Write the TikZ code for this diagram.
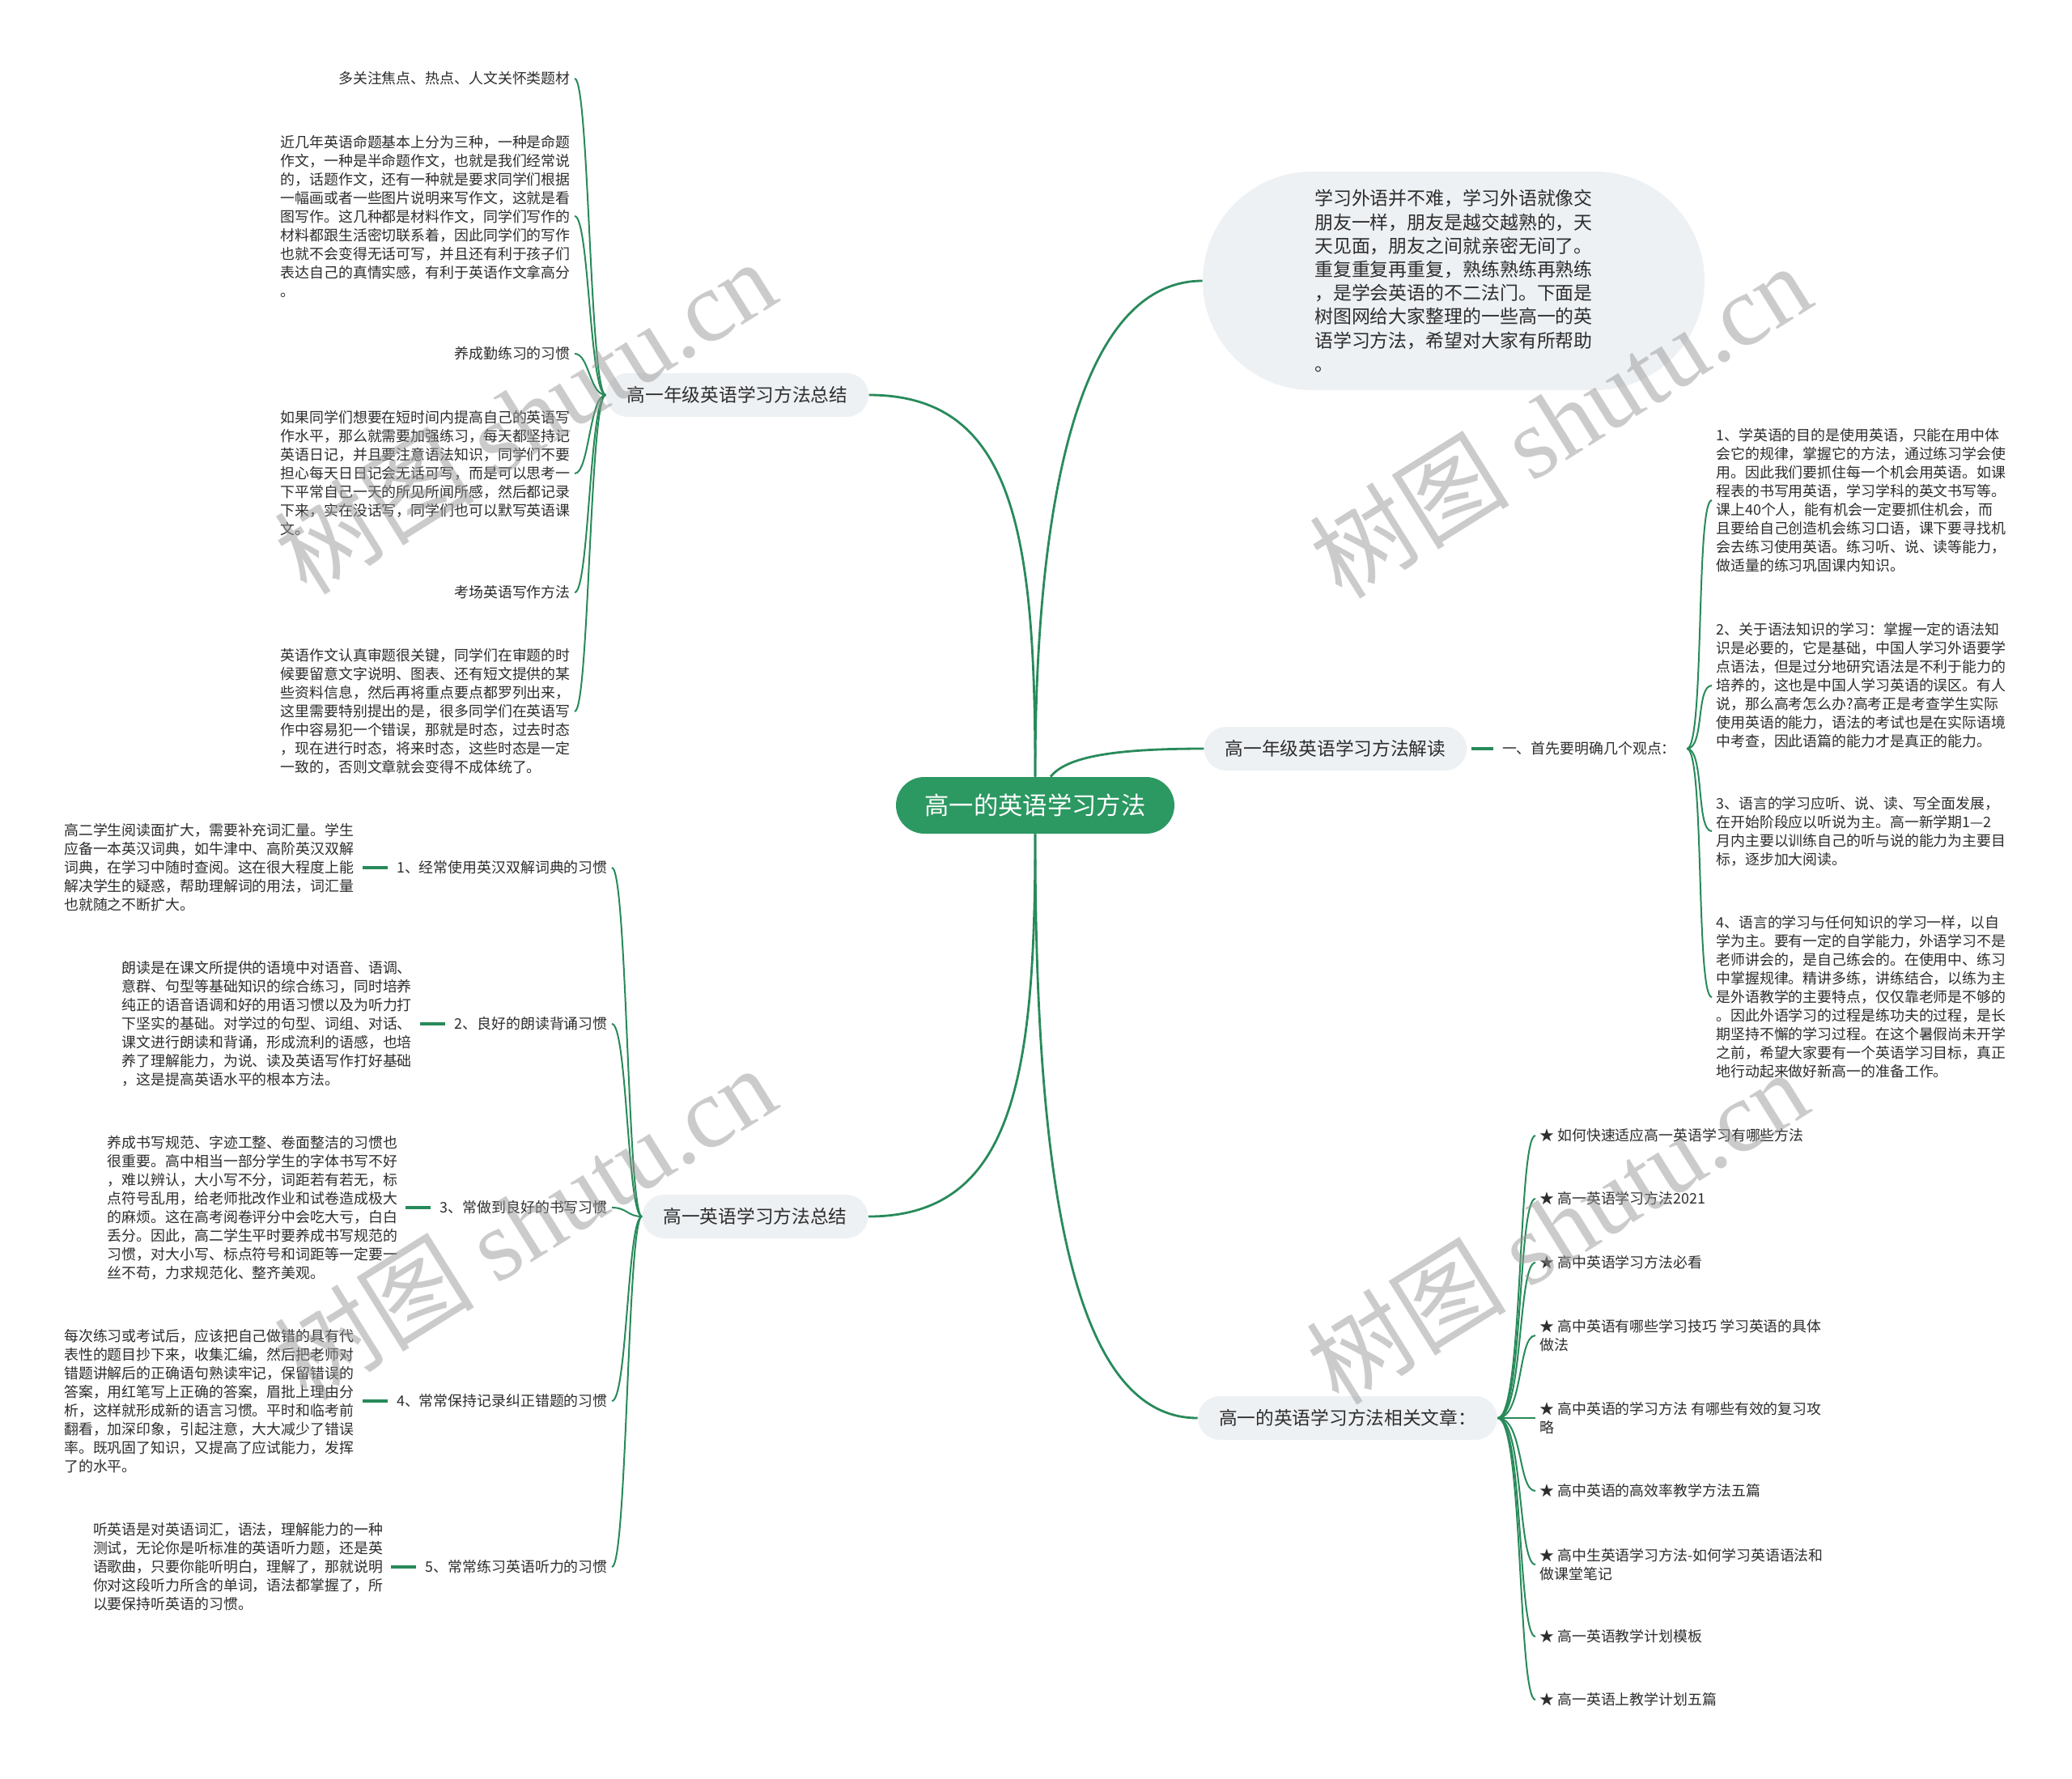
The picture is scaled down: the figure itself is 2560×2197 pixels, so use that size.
\documentclass[tikz,border=0pt]{standalone}
\usepackage{fontspec}
\setmainfont{Noto Sans CJK SC}
\newfontfamily\wmlatin{Liberation Serif}
\usetikzlibrary{positioning}
\definecolor{linegreen}{RGB}{40,138,90}
\definecolor{rootgreen}{RGB}{44,152,98}
\definecolor{branchgray}{RGB}{238,241,244}
\definecolor{textdark}{RGB}{45,45,45}

\begin{document}
\begin{tikzpicture}[x=0.5pt, y=-0.5pt,
    rootnode/.style={fill=rootgreen, text=white, rounded corners=17.5pt, minimum width=172pt, minimum height=35pt, font=\fontsize{15.15}{18}\selectfont},
    introbox/.style={fill=branchgray, text=textdark, rounded corners=67.5pt, minimum width=310pt, minimum height=135pt, align=left, font=\fontsize{11.45}{14.6}\selectfont},
    branchbox/.style={fill=branchgray, text=textdark, rounded corners=13.5pt, minimum height=27pt, inner xsep=13pt, font=\fontsize{11.35}{14}\selectfont},
    leaf/.style={text=textdark, align=left, inner xsep=2.5pt, inner ysep=1pt, font=\fontsize{8.95}{11.5}\selectfont},
    link/.style={draw=linegreen, line width=1pt},
    mainlink/.style={draw=linegreen, line width=1.4pt},
    stub/.style={draw=linegreen, line width=1.6pt, shorten <=2.5pt, shorten >=3pt},
    wmark/.style={text=black!40, opacity=0.5, rotate=32, font=\fontsize{62}{62}\selectfont}]
    \fill[white] (0,0) rectangle (2560,2197);
    \useasboundingbox (0,0) rectangle (2560,2197);

    \node[rootnode] (root) at (1279,995) {高一的英语学习方法};
    \node[introbox] (intro) at (1796,347) {学习外语并不难，学习外语就像交\\朋友一样，朋友是越交越熟的，天\\天见面，朋友之间就亲密无间了。\\重复重复再重复，熟练熟练再熟练\\，是学会英语的不二法门。下面是\\树图网给大家整理的一些高一的英\\语学习方法，希望对大家有所帮助\\。};
    \node[branchbox] (b1) at (911,488) {高一年级英语学习方法总结};
    \node[branchbox] (b2) at (1650,925) {高一年级英语学习方法解读};
    \node[branchbox] (b3) at (933,1503) {高一英语学习方法总结};
    \node[branchbox] (b4) at (1665,1752) {高一的英语学习方法相关文章：};

    % writing tips
    \node[leaf, anchor=east] (w1) at (710,97) {多关注焦点、热点、人文关怀类题材};
    \node[leaf, anchor=east] (w2) at (710,267) {近几年英语命题基本上分为三种，一种是命题\\作文，一种是半命题作文，也就是我们经常说\\的，话题作文，还有一种就是要求同学们根据\\一幅画或者一些图片说明来写作文，这就是看\\图写作。这几种都是材料作文，同学们写作的\\材料都跟生活密切联系着，因此同学们的写作\\也就不会变得无话可写，并且还有利于孩子们\\表达自己的真情实感，有利于英语作文拿高分\\。};
    \node[leaf, anchor=east] (w3) at (710,437) {养成勤练习的习惯};
    \node[leaf, anchor=east] (w4) at (710,585) {如果同学们想要在短时间内提高自己的英语写\\作水平，那么就需要加强练习，每天都坚持记\\英语日记，并且要注意语法知识，同学们不要\\担心每天日日记会无话可写，而是可以思考一\\下平常自己一天的所见所闻所感，然后都记录\\下来，实在没话写，同学们也可以默写英语课\\文。};
    \node[leaf, anchor=east] (w5) at (710,732) {考场英语写作方法};
    \node[leaf, anchor=east] (w6) at (710,879) {英语作文认真审题很关键，同学们在审题的时\\候要留意文字说明、图表、还有短文提供的某\\些资料信息，然后再将重点要点都罗列出来，\\这里需要特别提出的是，很多同学们在英语写\\作中容易犯一个错误，那就是时态，过去时态\\，现在进行时态，将来时态，这些时态是一定\\一致的，否则文章就会变得不成体统了。};

    % points of view
    \node[leaf, right=19pt of b2] (view) {一、首先要明确几个观点：};
    \node[leaf, anchor=west] (v1) at (2115,618) {1、学英语的目的是使用英语，只能在用中体\\会它的规律，掌握它的方法，通过练习学会使\\用。因此我们要抓住每一个机会用英语。如课\\程表的书写用英语，学习学科的英文书写等。\\课上40个人，能有机会一定要抓住机会，而\\且要给自己创造机会练习口语，课下要寻找机\\会去练习使用英语。练习听、说、读等能力，\\做适量的练习巩固课内知识。};
    \node[leaf, anchor=west] (v2) at (2115,847) {2、关于语法知识的学习：掌握一定的语法知\\识是必要的，它是基础，中国人学习外语要学\\点语法，但是过分地研究语法是不利于能力的\\培养的，这也是中国人学习英语的误区。有人\\说，那么高考怎么办?高考正是考查学生实际\\使用英语的能力，语法的考试也是在实际语境\\中考查，因此语篇的能力才是真正的能力。};
    \node[leaf, anchor=west] (v3) at (2115,1027) {3、语言的学习应听、说、读、写全面发展，\\在开始阶段应以听说为主。高一新学期1—2\\月内主要以训练自己的听与说的能力为主要目\\标，逐步加大阅读。};
    \node[leaf, anchor=west] (v4) at (2115,1232) {4、语言的学习与任何知识的学习一样，以自\\学为主。要有一定的自学能力，外语学习不是\\老师讲会的，是自己练会的。在使用中、练习\\中掌握规律。精讲多练，讲练结合，以练为主\\是外语教学的主要特点，仅仅靠老师是不够的\\。因此外语学习的过程是练功夫的过程，是长\\期坚持不懈的学习过程。在这个暑假尚未开学\\之前，希望大家要有一个英语学习目标，真正\\地行动起来做好新高一的准备工作。};

    % habits
    \node[leaf, anchor=east] (h1) at (756,1072) {1、经常使用英汉双解词典的习惯};
    \node[leaf, left=21pt of h1] (h1t) {高二学生阅读面扩大，需要补充词汇量。学生\\应备一本英汉词典，如牛津中、高阶英汉双解\\词典，在学习中随时查阅。这在很大程度上能\\解决学生的疑惑，帮助理解词的用法，词汇量\\也就随之不断扩大。};
    \node[leaf, anchor=east] (h2) at (756,1265) {2、良好的朗读背诵习惯};
    \node[leaf, left=21pt of h2] (h2t) {朗读是在课文所提供的语境中对语音、语调、\\意群、句型等基础知识的综合练习，同时培养\\纯正的语音语调和好的用语习惯以及为听力打\\下坚实的基础。对学过的句型、词组、对话、\\课文进行朗读和背诵，形成流利的语感，也培\\养了理解能力，为说、读及英语写作打好基础\\，这是提高英语水平的根本方法。};
    \node[leaf, anchor=east] (h3) at (756,1492) {3、常做到良好的书写习惯};
    \node[leaf, left=21pt of h3] (h3t) {养成书写规范、字迹工整、卷面整洁的习惯也\\很重要。高中相当一部分学生的字体书写不好\\，难以辨认，大小写不分，词距若有若无，标\\点符号乱用，给老师批改作业和试卷造成极大\\的麻烦。这在高考阅卷评分中会吃大亏，白白\\丢分。因此，高二学生平时要养成书写规范的\\习惯，对大小写、标点符号和词距等一定要一\\丝不苟，力求规范化、整齐美观。};
    \node[leaf, anchor=east] (h4) at (756,1731) {4、常常保持记录纠正错题的习惯};
    \node[leaf, left=21pt of h4] (h4t) {每次练习或考试后，应该把自己做错的具有代\\表性的题目抄下来，收集汇编，然后把老师对\\错题讲解后的正确语句熟读牢记，保留错误的\\答案，用红笔写上正确的答案，眉批上理由分\\析，这样就形成新的语言习惯。平时和临考前\\翻看，加深印象，引起注意，大大减少了错误\\率。既巩固了知识，又提高了应试能力，发挥\\了的水平。};
    \node[leaf, anchor=east] (h5) at (756,1936) {5、常常练习英语听力的习惯};
    \node[leaf, left=21pt of h5] (h5t) {听英语是对英语词汇，语法，理解能力的一种\\测试，无论你是听标准的英语听力题，还是英\\语歌曲，只要你能听明白，理解了，那就说明\\你对这段听力所含的单词，语法都掌握了，所\\以要保持听英语的习惯。};

    % related articles
    \node[leaf, anchor=west] (a1) at (1897,1403) {★ 如何快速适应高一英语学习有哪些方法};
    \node[leaf, anchor=west] (a2) at (1897,1481) {★ 高一英语学习方法2021};
    \node[leaf, anchor=west] (a3) at (1897,1560) {★ 高中英语学习方法必看};
    \node[leaf, anchor=west] (a4) at (1897,1650) {★ 高中英语有哪些学习技巧 学习英语的具体\\做法};
    \node[leaf, anchor=west] (a5) at (1897,1752) {★ 高中英语的学习方法 有哪些有效的复习攻\\略};
    \node[leaf, anchor=west] (a6) at (1897,1842) {★ 高中英语的高效率教学方法五篇};
    \node[leaf, anchor=west] (a7) at (1897,1933) {★ 高中生英语学习方法-如何学习英语语法和\\做课堂笔记};
    \node[leaf, anchor=west] (a8) at (1897,2022) {★ 高一英语教学计划模板};
    \node[leaf, anchor=west] (a9) at (1897,2100) {★ 高一英语上教学计划五篇};

    % root links
    \draw[mainlink] (b1.east) .. controls +(180,0) and +(0,-300) .. (root.north);
    \draw[mainlink] (root.north) .. controls +(0,-350) and +(-150,0) .. (intro.west);
    \draw[mainlink] ([xshift=9.5pt]root.north) .. controls +(20,-25) and +(-110,0) .. (b2.west);
    \draw[mainlink] (root.south) .. controls +(0,300) and +(180,0) .. (b3.east);
    \draw[mainlink] (root.south) .. controls +(0,450) and +(-150,0) .. (b4.west);

    \draw[link] (b1.west) .. controls +(-20,0) and +(18,0) .. (w1.east);
    \draw[link] (b1.west) .. controls +(-20,0) and +(18,0) .. (w2.east);
    \draw[link] (b1.west) .. controls +(-20,0) and +(18,0) .. (w3.east);
    \draw[link] (b1.west) .. controls +(-20,0) and +(18,0) .. (w4.east);
    \draw[link] (b1.west) .. controls +(-20,0) and +(18,0) .. (w5.east);
    \draw[link] (b1.west) .. controls +(-20,0) and +(18,0) .. (w6.east);

    \draw[stub] (b2.east) -- (view.west);
    \draw[link, shorten <=4pt] (view.east) .. controls +(30,0) and +(-20,0) .. (v1.west);
    \draw[link, shorten <=4pt] (view.east) .. controls +(30,0) and +(-20,0) .. (v2.west);
    \draw[link, shorten <=4pt] (view.east) .. controls +(30,0) and +(-20,0) .. (v3.west);
    \draw[link, shorten <=4pt] (view.east) .. controls +(30,0) and +(-20,0) .. (v4.west);

    \draw[link] (b3.west) .. controls +(-18,0) and +(19,0) .. (h1.east);
    \draw[link] (b3.west) .. controls +(-18,0) and +(19,0) .. (h2.east);
    \draw[link] (b3.west) .. controls +(-18,0) and +(19,0) .. (h3.east);
    \draw[link] (b3.west) .. controls +(-18,0) and +(19,0) .. (h4.east);
    \draw[link] (b3.west) .. controls +(-18,0) and +(19,0) .. (h5.east);
    \draw[stub] (h1t.east) -- (h1.west);
    \draw[stub] (h2t.east) -- (h2.west);
    \draw[stub] (h3t.east) -- (h3.west);
    \draw[stub] (h4t.east) -- (h4.west);
    \draw[stub] (h5t.east) -- (h5.west);

    \draw[link] (b4.east) .. controls +(32,0) and +(-22,0) .. (a1.west);
    \draw[link] (b4.east) .. controls +(32,0) and +(-22,0) .. (a2.west);
    \draw[link] (b4.east) .. controls +(32,0) and +(-22,0) .. (a3.west);
    \draw[link] (b4.east) .. controls +(32,0) and +(-22,0) .. (a4.west);
    \draw[link] (b4.east) .. controls +(32,0) and +(-22,0) .. (a5.west);
    \draw[link] (b4.east) .. controls +(32,0) and +(-22,0) .. (a6.west);
    \draw[link] (b4.east) .. controls +(32,0) and +(-22,0) .. (a7.west);
    \draw[link] (b4.east) .. controls +(32,0) and +(-22,0) .. (a8.west);
    \draw[link] (b4.east) .. controls +(32,0) and +(-22,0) .. (a9.west);

    % watermark
    \node[wmark] (wm1) at (648,514) {树图 {\wmlatin shutu.cn}};
    \node[wmark] (wm2) at (1927,519) {树图 {\wmlatin shutu.cn}};
    \node[wmark] (wm3) at (648,1510) {树图 {\wmlatin shutu.cn}};
    \node[wmark] (wm4) at (1923,1515) {树图 {\wmlatin shutu.cn}};
\end{tikzpicture}
\end{document}
